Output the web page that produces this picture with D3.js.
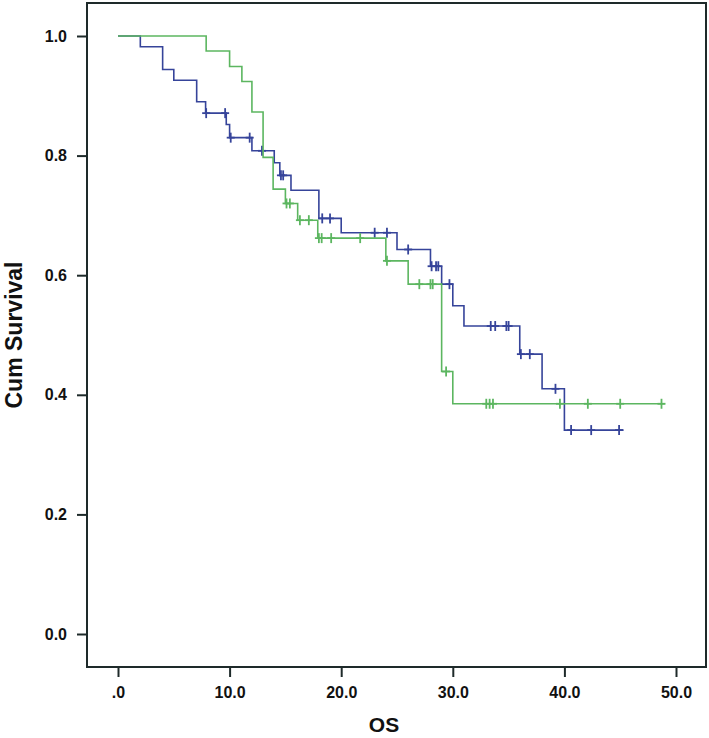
<!DOCTYPE html>
<html>
<head>
<meta charset="utf-8">
<script src="https://cdn.jsdelivr.net/npm/d3@7"></script>
<style>
  html, body { margin: 0; padding: 0; background: #fff; }
  svg { display: block; }
  text { font-family: "Liberation Sans", Arial, sans-serif; font-weight: bold; fill: #111; }
</style>
</head>
<body>
<svg id="chart" width="709" height="738"></svg>
<script>
// ---- data ----
const xTicks = [0, 10, 20, 30, 40, 50];
const xTickLabels = [".0", "10.0", "20.0", "30.0", "40.0", "50.0"];
const yTicks = [0, 0.2, 0.4, 0.6, 0.8, 1.0];
const yTickLabels = ["0.0", "0.2", "0.4", "0.6", "0.8", "1.0"];

// group 1 (blue)
const blueTimes = [2.0, 4.0, 5.0, 7.05, 7.85, 9.7, 10.0, 12.0, 14.0, 14.5, 15.5, 18.0, 20.0, 25.0, 28.0, 29.0, 30.0, 31.0, 36.0, 38.0, 40.0];
const blueSurv  = [0.982, 0.944, 0.926, 0.890, 0.871, 0.852, 0.830, 0.808, 0.788, 0.767, 0.742, 0.695, 0.671, 0.643, 0.615, 0.585, 0.549, 0.515, 0.468, 0.410, 0.341];
const blueCensor = [7.9, 9.6, 10.1, 11.8, 12.9, 14.6, 14.8, 18.3, 19.0, 23.0, 24.1, 26.0, 28.1, 28.5, 28.7, 29.7, 33.4, 33.8, 34.8, 35.0, 36.1, 36.9, 39.2, 40.6, 42.4, 44.9];
const blueEnd = 45.3;

// group 2 (green)
const greenTimes = [7.9, 10.0, 11.1, 12.0, 13.0, 13.9, 15.0, 16.1, 17.9, 24.0, 26.0, 29.0, 30.0];
const greenSurv  = [0.975, 0.949, 0.924, 0.873, 0.797, 0.744, 0.720, 0.692, 0.662, 0.624, 0.585, 0.439, 0.385];
const greenCensor = [15.1, 15.4, 16.3, 17.1, 18.0, 18.25, 19.1, 21.7, 24.1, 27.0, 28.0, 28.2, 29.4, 33.0, 33.3, 33.6, 39.6, 42.1, 45.0, 48.7];
const greenEnd = 49.0;

const blueColor = "#36449a";
const greenColor = "#5cb660";
const frameColor = "#1e2a2a";

// ---- layout ----
const svg = d3.select("#chart");
const frame = { left: 87, right: 706, top: 3, bottom: 667 };
const x = d3.scaleLinear().domain([0, 50]).range([118, 676]);
const y = d3.scaleLinear().domain([0, 1]).range([634, 36]);

function survAt(times, surv, t) {
  let s = 1;
  for (let i = 0; i < times.length; i++) { if (times[i] <= t) s = surv[i]; }
  return s;
}
function curvePoints(times, surv, end) {
  const pts = [[0, 1]];
  times.forEach((t, i) => pts.push([t, surv[i]]));
  pts.push([end, surv[surv.length - 1]]);
  return pts;
}

const line = d3.line().x(d => x(d[0])).y(d => y(d[1])).curve(d3.curveStepAfter);

function drawGroup(times, surv, censor, end, color) {
  const g = svg.append("g");
  g.append("path")
    .datum(curvePoints(times, surv, end))
    .attr("d", line)
    .attr("fill", "none")
    .attr("stroke", color)
    .attr("stroke-width", 1.6);
  g.selectAll("line.censor")
    .data(censor)
    .join("line")
    .attr("class", "censor")
    .attr("x1", d => x(d)).attr("x2", d => x(d))
    .attr("y1", d => y(survAt(times, surv, d)) - 5)
    .attr("y2", d => y(survAt(times, surv, d)) + 5)
    .attr("stroke", color)
    .attr("stroke-width", 1.8);
  g.selectAll("line.censorh")
    .data(censor)
    .join("line")
    .attr("class", "censorh")
    .attr("x1", d => x(d) - 4).attr("x2", d => x(d) + 4)
    .attr("y1", d => y(survAt(times, surv, d)))
    .attr("y2", d => y(survAt(times, surv, d)))
    .attr("stroke", color)
    .attr("stroke-width", 1.8);
}

drawGroup(blueTimes, blueSurv, blueCensor, blueEnd, blueColor);
drawGroup(greenTimes, greenSurv, greenCensor, greenEnd, greenColor);

// frame
svg.append("rect")
  .attr("x", frame.left).attr("y", frame.top)
  .attr("width", frame.right - frame.left)
  .attr("height", frame.bottom - frame.top)
  .attr("fill", "none")
  .attr("stroke", frameColor)
  .attr("stroke-width", 2);

// x axis
const xAxis = d3.axisBottom(x)
  .tickValues(xTicks)
  .tickFormat((d, i) => xTickLabels[i])
  .tickSize(10)
  .tickPadding(10);
const gx = svg.append("g").attr("transform", `translate(0,${frame.bottom})`).call(xAxis);
gx.select(".domain").remove();
gx.selectAll(".tick line").attr("stroke", frameColor).attr("stroke-width", 2);
gx.selectAll(".tick text").attr("font-size", 16).attr("fill", "#111")
  .style("font-family", '"Liberation Sans", Arial, sans-serif').style("font-weight", "bold");

// y axis
const yAxis = d3.axisLeft(y)
  .tickValues(yTicks)
  .tickFormat((d, i) => yTickLabels[i])
  .tickSize(10)
  .tickPadding(10);
const gy = svg.append("g").attr("transform", `translate(${frame.left},0)`).call(yAxis);
gy.select(".domain").remove();
gy.selectAll(".tick line").attr("stroke", frameColor).attr("stroke-width", 2);
gy.selectAll(".tick text").attr("font-size", 16).attr("fill", "#111")
  .style("font-family", '"Liberation Sans", Arial, sans-serif').style("font-weight", "bold");

// axis titles
svg.append("text")
  .attr("x", 384).attr("y", 732)
  .attr("text-anchor", "middle")
  .attr("font-size", 21)
  .text("OS");

svg.append("text")
  .attr("transform", `translate(22,${(frame.top + frame.bottom) / 2}) rotate(-90)`)
  .attr("text-anchor", "middle")
  .attr("font-size", 23)
  .text("Cum Survival");
</script>
</body>
</html>
